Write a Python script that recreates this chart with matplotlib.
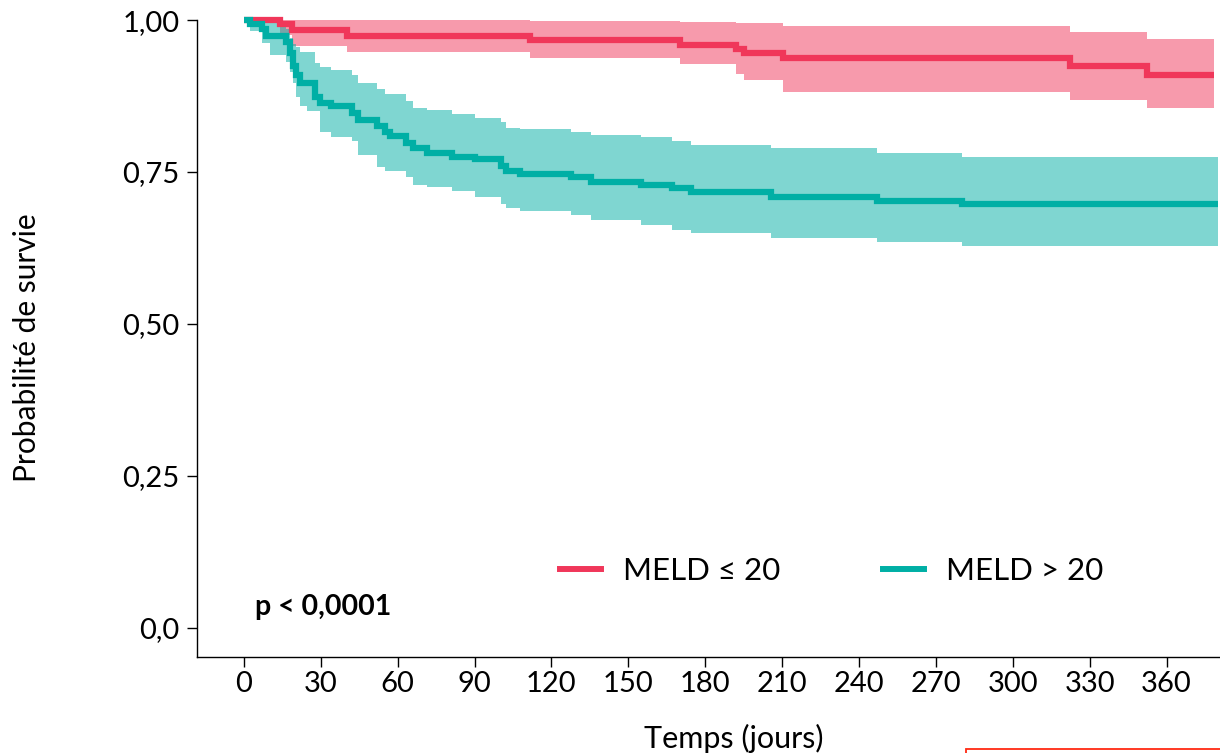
import numpy as np
import matplotlib
matplotlib.use("Agg")
import matplotlib.pyplot as plt
from matplotlib.lines import Line2D
from matplotlib.patches import Rectangle

plt.rcParams['font.family'] = ['Lato', 'DejaVu Sans']

# Kaplan-Meier : MELD <= 20 (temps en jours, survie, IC 95 %)
red_t = [0, 14.1, 18.7, 40.1, 111.6, 170.1, 192.0, 195.0, 210.4, 322.3, 352.3, 378.5]
red_s = [1.0, .993, .983, .974, .967, .959, .952, .946, .937, .924, .909, .909]
red_hi = [1.0, 1.0, 1.0, 1.0, .999, .997, .995, .995, .99, .98, .969, .969]
red_lo = [1.0, .976, .958, .947, .938, .928, .911, .901, .881, .868, .855, .855]

# Kaplan-Meier : MELD > 20
teal_t = [0, 2.4, 7.1, 8.7, 10.2, 16.5, 18.0, 19.2, 20.4, 21.9, 24.7, 27.8, 29.7, 34.0,
          42.2, 44.5, 51.9, 55.0, 57.0, 63.3, 66.0, 71.5, 81.2, 90.2, 100.3, 102.3, 107.8,
          127.6, 135.6, 155.0, 167.0, 174.4, 205.7, 247.1, 280.2, 380]
teal_s = [1.0, .993, .985, .974, .974, .964, .945, .925, .91, .897, .897, .874, .864, .858,
          .847, .835, .826, .815, .81, .798, .789, .782, .775, .771, .760, .752, .746,
          .741, .734, .728, .723, .717, .709, .703, .698, .698]
teal_hi = [1.0, 1.0, 1.0, 1.0, .995, .985, .97, .96, .955, .947, .947, .93, .922, .917,
           .909, .897, .887, .879, .879, .867, .855, .852, .846, .839, .832, .823, .82,
           .815, .811, .807, .801, .795, .789, .782, .775, .775]
teal_lo = [1.0, .982, .962, .962, .943, .931, .915, .896, .873, .858, .85, .85, .816, .807,
           .801, .778, .758, .751, .751, .741, .729, .725, .719, .708, .698, .69, .686,
           .68, .671, .663, .655, .649, .642, .634, .628, .628]

groups = ['MELD ≤ 20', 'MELD > 20']
colors = ['#F0375A', '#00AFA5']

xticks = list(range(0, 361, 30))
yticks = [0, 0.25, 0.5, 0.75, 1.0]
ytick_labels = ['0,0', '0,25', '0,50', '0,75', '1,00']

fig = plt.figure(figsize=(12.2, 7.53), dpi=100)
ax = fig.add_axes([0.1612, 0.1279, 0.8822, 0.8495])

for t, s, lo, hi, c in [(red_t, red_s, red_lo, red_hi, colors[0]),
                        (teal_t, teal_s, teal_lo, teal_hi, colors[1])]:
    ax.fill_between(t, lo, hi, step='post', color=c, alpha=0.5, lw=0)
for t, s, c in [(red_t, red_s, colors[0]), (teal_t, teal_s, colors[1])]:
    ax.step(t, s, where='post', color=c, lw=4.5, solid_capstyle='butt',
            solid_joinstyle='miter', clip_on=False)

ax.set_xlim(-18.4, 401.5)
ax.set_ylim(-0.0477, 1.005)
ax.set_xticks(xticks)
ax.set_yticks(yticks)
ax.set_yticklabels(ytick_labels)
ax.tick_params(axis='both', labelsize=21, length=7.5, width=1.0, color='black')
ax.tick_params(axis='x', pad=3)
ax.tick_params(axis='y', pad=5)
for sp in ['top', 'right']:
    ax.spines[sp].set_visible(False)
for sp in ['left', 'bottom']:
    ax.spines[sp].set_linewidth(1.0)
ax.spines['left'].set_bounds(-0.0477, 1.0)

fig.text(27 / 1220, 1 - 348 / 753, 'Probabilité de survie', rotation=90,
         ha='center', va='center', fontsize=21.5)
fig.text(733.5 / 1220, 1 - 738 / 753, 'Temps (jours)', ha='center', va='center',
         fontsize=22)
fig.text(255 / 1220, 1 - 607 / 753, 'p < 0,0001', ha='left', va='center',
         fontsize=20.5, fontweight='bold')

handles = [Line2D([], [], color=c, lw=4.3) for c in colors]
fig.legend(handles, groups, loc='center', bbox_to_anchor=(831.5 / 1220, 1 - 571 / 753),
           ncol=2, frameon=False, fontsize=22.5, handlelength=1.3,
           handletextpad=0.7, columnspacing=3.3)

fig.add_artist(Rectangle((966 / 1220, -0.05), 0.3, 0.05 + 4 / 753,
                         transform=fig.transFigure, fill=False,
                         edgecolor='#FF2A12', lw=1.3))

fig.savefig('out.png', dpi=100)
